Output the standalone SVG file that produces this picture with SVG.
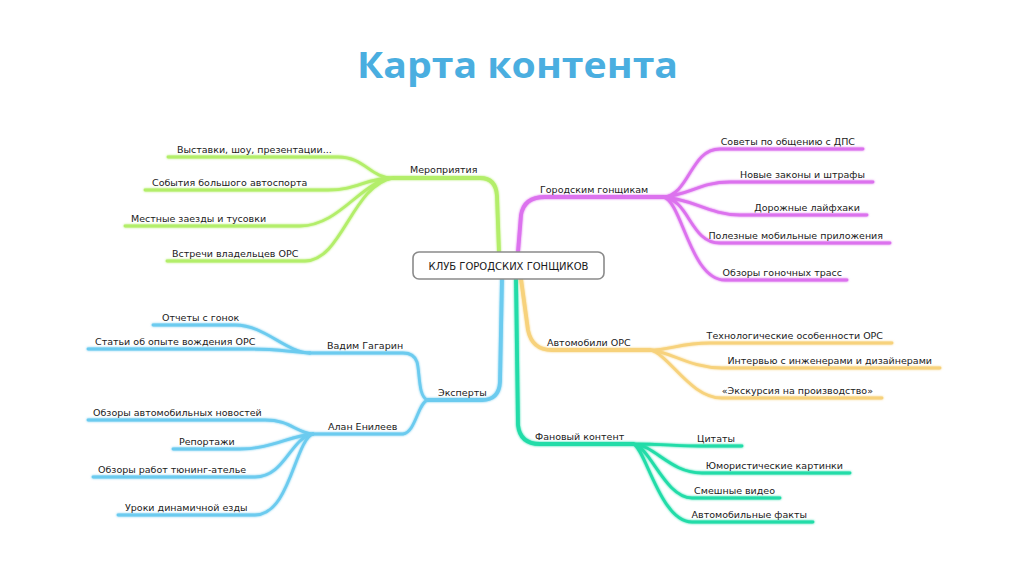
<svg xmlns="http://www.w3.org/2000/svg" width="1024" height="574" viewBox="0 0 1024 574">
<defs>
<filter id="glow" x="-10%" y="-10%" width="120%" height="120%">
<feGaussianBlur in="SourceGraphic" stdDeviation="1.3" result="b"/>
<feMerge><feMergeNode in="b"/><feMergeNode in="SourceGraphic"/></feMerge>
</filter>
</defs>
<style>
text{font-family:"DejaVu Sans","Noto Sans",sans-serif;font-size:9.5px;fill:#1a1a1a}
.title{font-family:"Open Sans","Liberation Sans",sans-serif;font-size:36px;font-weight:bold;fill:#4aaee0}
.c{fill:none;stroke-linecap:round;stroke-linejoin:round}
.m{stroke-width:3.8}
.s{stroke-width:2.8}
.g{stroke:#b3ee6a}.p{stroke:#dc72ee}.y{stroke:#f7d27c}.t{stroke:#22dca8}.b{stroke:#6ccbef}
.root rect{fill:#fff;stroke:#8a8a8a;stroke-width:1.6}
</style>
<rect width="1024" height="574" fill="#fff"/>
<text class="title" x="357" y="78" textLength="321" lengthAdjust="spacingAndGlyphs">Карта контента</text>

<g id="connectors" filter="url(#glow)">
<!-- green -->
<path class="c m g" d="M499 252 L497 196 Q496 178 480 178 L393 178"/>
<path class="c s g" d="M393 178 C370 178 365 157 338 157 L168 157"/>
<path class="c s g" d="M393 178 C365 178 358 190 328 190 L145 190"/>
<path class="c s g" d="M393 178 C362 180 340 226 300 226 L125 226"/>
<path class="c s g" d="M393 178 C352 185 342 261 305 261 L167 261"/>
<!-- magenta -->
<path class="c m p" d="M518 252 L521 215 Q524 197 545 197 L663 197"/>
<path class="c s p" d="M663 197 C690 195 690 149 720 149 L863 149"/>
<path class="c s p" d="M663 197 C690 195 700 182 730 182 L873 182"/>
<path class="c s p" d="M663 197 C690 198 710 215 740 215 L867 215"/>
<path class="c s p" d="M663 197 C690 200 690 243 720 243 L890 243"/>
<path class="c s p" d="M663 197 C682 200 690 280 725 280 L847 280"/>
<!-- yellow -->
<path class="c m y" d="M521 279 L528 330 Q532 350 552 350 L650 350"/>
<path class="c s y" d="M650 350 C670 350 680 343 710 343 L892 343"/>
<path class="c s y" d="M650 350 C672 352 690 368 722 368 L940 368"/>
<path class="c s y" d="M650 350 C670 355 690 398 722 398 L882 398"/>
<!-- teal -->
<path class="c m t" d="M516 279 L518 425 Q520 444 540 444 L633 444"/>
<path class="c s t" d="M633 444 C660 444 680 446 700 446 L742 446"/>
<path class="c s t" d="M633 444 C655 445 670 473 702 473 L850 473"/>
<path class="c s t" d="M633 444 C650 446 665 498 692 498 L780 498"/>
<path class="c s t" d="M633 444 C645 446 660 522 692 522 L813 522"/>
<!-- blue -->
<path class="c m b" d="M502 279 L500 382 Q499 400 482 400 L428 400"/>
<path class="c s b" d="M428 400 C418 398 420 372 417 362 Q414 353 403 353 L310 353"/>
<path class="c s b" d="M428 400 C418 402 416 432 403 434 L313 434"/>
<path class="c s b" d="M310 353 C285 352 265 325 235 325 L153 325"/>
<path class="c s b" d="M310 353 C290 352 280 349 250 349 L88 349"/>
<path class="c s b" d="M313 434 C295 432 290 420 265 420 L88 420"/>
<path class="c s b" d="M313 434 C290 436 270 449 240 449 L173 449"/>
<path class="c s b" d="M313 434 C290 438 285 477 255 477 L93 477"/>
<path class="c s b" d="M313 434 C295 440 290 515 255 515 L118 515"/>
</g>

<g id="root" class="root">
<rect x="413" y="252" width="191" height="27" rx="6"/>
<text x="508.5" y="269.5" text-anchor="middle" style="font-size:10px">КЛУБ ГОРОДСКИХ ГОНЩИКОВ</text>
</g>

<g id="n-meropriyatiya"><text x="410" y="173">Мероприятия</text></g>
<g id="n-vystavki"><text x="177" y="153">Выставки, шоу, презентации...</text></g>
<g id="n-sobytiya"><text x="152" y="186">События большого автоспорта</text></g>
<g id="n-mestnye"><text x="131" y="222">Местные заезды и тусовки</text></g>
<g id="n-vstrechi"><text x="172" y="257">Встречи владельцев ОРС</text></g>

<g id="n-gorodskim"><text x="540" y="193">Городским гонщикам</text></g>
<g id="n-sovety"><text x="855" y="145" text-anchor="end">Советы по общению с ДПС</text></g>
<g id="n-novye"><text x="865" y="178" text-anchor="end">Новые законы и штрафы</text></g>
<g id="n-dorozhnye"><text x="860" y="211" text-anchor="end">Дорожные лайфхаки</text></g>
<g id="n-poleznye"><text x="883" y="239" text-anchor="end">Полезные мобильные приложения</text></g>
<g id="n-obzory-trass"><text x="842" y="276" text-anchor="end">Обзоры гоночных трасс</text></g>

<g id="n-avtomobili"><text x="547" y="346">Автомобили ОРС</text></g>
<g id="n-tehnolog"><text x="883" y="339" text-anchor="end">Технологические особенности ОРС</text></g>
<g id="n-intervyu"><text x="932" y="364" text-anchor="end">Интервью с инженерами и дизайнерами</text></g>
<g id="n-ekskursiya"><text x="873" y="394" text-anchor="end">«Экскурсия на производство»</text></g>

<g id="n-fanovyi"><text x="535" y="440">Фановый контент</text></g>
<g id="n-tsitaty"><text x="735" y="442" text-anchor="end">Цитаты</text></g>
<g id="n-yumor"><text x="843" y="469" text-anchor="end">Юмористические картинки</text></g>
<g id="n-smeshnye"><text x="775" y="494" text-anchor="end">Смешные видео</text></g>
<g id="n-fakty"><text x="807" y="518" text-anchor="end">Автомобильные факты</text></g>

<g id="n-eksperty"><text x="438" y="396">Эксперты</text></g>
<g id="n-vadim"><text x="327" y="349">Вадим Гагарин</text></g>
<g id="n-otchety"><text x="162" y="321">Отчеты с гонок</text></g>
<g id="n-stati"><text x="95" y="345">Статьи об опыте вождения ОРС</text></g>
<g id="n-alan"><text x="328" y="430">Алан Енилеев</text></g>
<g id="n-obzory-novostei"><text x="93" y="416">Обзоры автомобильных новостей</text></g>
<g id="n-reportazhi"><text x="179" y="445">Репортажи</text></g>
<g id="n-tyuning"><text x="98" y="473">Обзоры работ тюнинг-ателье</text></g>
<g id="n-uroki"><text x="125" y="511">Уроки динамичной езды</text></g>
</svg>
